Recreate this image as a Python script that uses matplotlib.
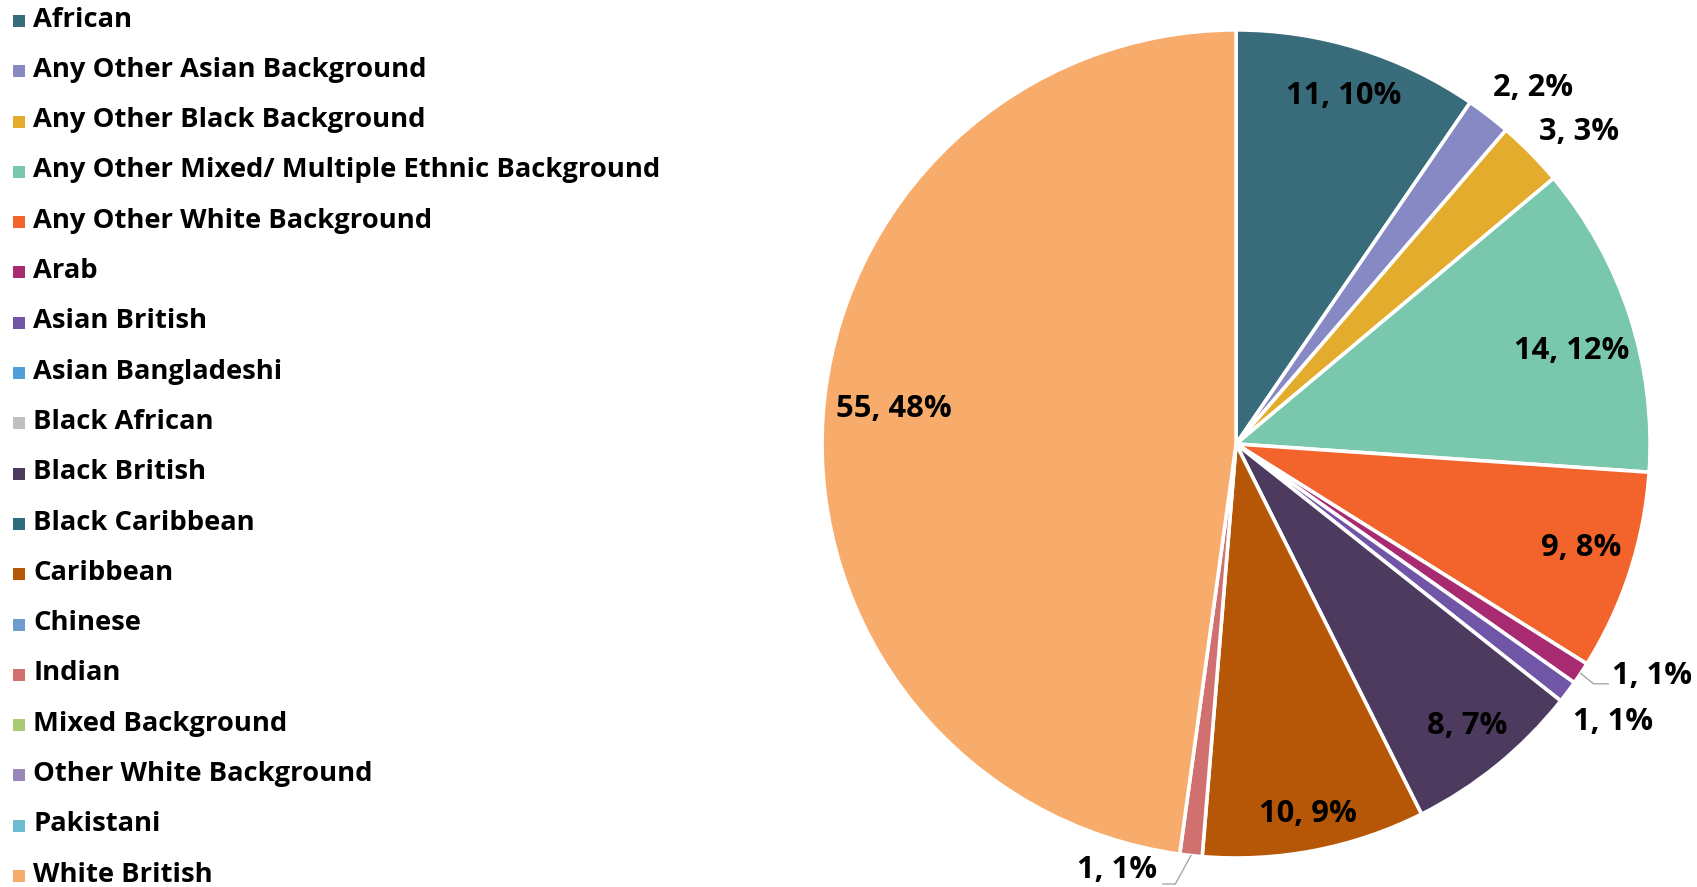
import matplotlib
matplotlib.use("Agg")
import matplotlib.pyplot as plt
from matplotlib.patches import Rectangle
import numpy as np

# ---- data ----
categories = [
    "African",
    "Any Other Asian Background",
    "Any Other Black Background",
    "Any Other Mixed/ Multiple Ethnic Background",
    "Any Other White Background",
    "Arab",
    "Asian British",
    "Asian Bangladeshi",
    "Black African",
    "Black British",
    "Black Caribbean",
    "Caribbean",
    "Chinese",
    "Indian",
    "Mixed Background",
    "Other White Background",
    "Pakistani",
    "White British",
]
counts = [11, 2, 3, 14, 9, 1, 1, 0, 0, 8, 0, 10, 0, 1, 0, 0, 0, 55]
colors = [
    "#386C7B", "#8689C3", "#E4AC2C", "#79C8AD", "#F2642C", "#A82A70",
    "#7156A7", "#4F9FD9", "#BFBFBF", "#4C3A5F", "#2D6B7A", "#B65708",
    "#6F9BCE", "#D0716F", "#A9CA75", "#9B86B8", "#6CBDD1", "#F7AC6B",
]

# label placement per category: (radial distance, angle shift in degrees)
label_place = {
    "African": (0.88, 0.0),
    "Any Other Asian Background": (1.12, -2.3),
    "Any Other Black Background": (1.12, -2.3),
    "Any Other Mixed/ Multiple Ethnic Background": (0.84, -2.5),
    "Any Other White Background": (0.87, 1.2),
    "Asian British": (1.13, 0.4),
    "Black British": (0.88, 0.2),
    "Caribbean": (0.91, 0.0),
    "White British": (0.83, -2.0),
}
# slices whose labels sit out to the side with a leader line:
# (side, vertical nudge of the text)
leader_slices = {"Arab": ("right", 0.02), "Indian": ("left", 0.035)}

FONT = "Open Sans"
W, H = 1697, 887
CX, CY, R = 1236, 444, 414  # pie centre and radius in pixels (from top-left)

fig = plt.figure(figsize=(W / 100 + 0.001, H / 100 + 0.001), dpi=100)
fig.patch.set_facecolor("white")

# fit the legend font so that the longest entry spans the left column
probe = fig.text(0, 0, max(categories, key=len), fontsize=20, fontweight="bold", family=FONT)
fig.canvas.draw()
pw = probe.get_window_extent().width
probe.remove()
fs = 20 * 626 / pw
fs_lab = fs * 1.13

# ---- pie ----
ax = fig.add_axes([700 / W, 0, (W - 700) / W, 1])
total = sum(counts)
nz = [i for i, v in enumerate(counts) if v > 0]
vals = [counts[i] for i in nz]
wedges, _ = ax.pie(
    vals,
    colors=[colors[i] for i in nz],
    startangle=90,
    counterclock=False,
    radius=1.0,
    wedgeprops=dict(edgecolor="white", linewidth=2.6),
)
ax.set_xlim((700 - CX) / R, (W - CX) / R)
ax.set_ylim(-(H - CY) / R, CY / R)
ax.set_aspect("equal", adjustable="datalim")
ax.axis("off")

for w, i in zip(wedges, nz):
    name = categories[i]
    v = counts[i]
    text = f"{v}, {round(100 * v / total)}%"
    mid = np.deg2rad((w.theta1 + w.theta2) / 2)
    if name in leader_slices:
        side, nudge = leader_slices[name]
        x0, y0 = np.cos(mid), np.sin(mid)
        if side == "right":
            ex, ey = 1.04 * np.cos(mid - np.deg2rad(0.2)), 1.04 * np.sin(mid - np.deg2rad(0.2))
            hx = ex + 0.035
            ha = "left"
            tx = hx + 0.01
        else:
            a = mid - np.deg2rad(1.6)
            ex, ey = 1.073 * np.cos(a), 1.073 * np.sin(a)
            hx = ex - 0.03
            ha = "right"
            tx = hx - 0.015
        ax.plot([x0, ex, hx], [y0, ey, ey], color="#A6A6A6", lw=1.0, clip_on=False)
        ax.text(tx, ey + nudge, text, ha=ha, va="center", fontsize=fs_lab,
                fontweight="bold", family=FONT, color="black", clip_on=False)
    else:
        r, shift = label_place[name]
        a = mid + np.deg2rad(shift)
        ax.text(r * np.cos(a), r * np.sin(a), text, ha="center", va="center",
                fontsize=fs_lab, fontweight="bold", family=FONT, color="black", clip_on=False)

# ---- legend ----
y_first, step = 21.0, 50.3
sq = 12
for k, (name, col) in enumerate(zip(categories, colors)):
    yc = y_first + k * step
    fig.add_artist(Rectangle(((19 - sq / 2) / W, 1 - (yc + sq / 2) / H), sq / W, sq / H,
                             transform=fig.transFigure, facecolor=col, edgecolor="none"))
    fig.text(33 / W, 1 - (yc - 1.5) / H, name, ha="left", va="center", fontsize=fs,
             fontweight="bold", family=FONT, color="black")

fig.savefig("out.png", dpi=100, facecolor="white")
